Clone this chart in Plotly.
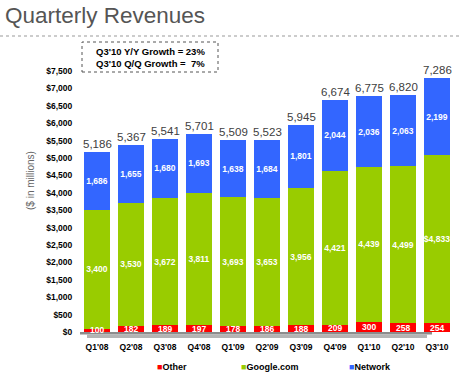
import plotly.graph_objects as go

quarters = ["Q1'08", "Q2'08", "Q3'08", "Q4'08", "Q1'09", "Q2'09", "Q3'09",
            "Q4'09", "Q1'10", "Q2'10", "Q3'10"]
other = [100, 182, 189, 197, 178, 186, 188, 209, 300, 258, 254]
google = [3400, 3530, 3672, 3811, 3693, 3653, 3956, 4421, 4439, 4499, 4833]
network = [1686, 1655, 1680, 1693, 1638, 1684, 1801, 2044, 2036, 2063, 2199]
totals = [5186, 5367, 5541, 5701, 5509, 5523, 5945, 6674, 6775, 6820, 7286]

google_text = [f"{v:,}" for v in google]
google_text[-1] = "$" + google_text[-1]
network_text = [f"{v:,}" for v in network]

RED = "#FF0000"
GREEN = "#99CC00"
BLUE = "#3366FF"
FONT = "Liberation Sans, Arial, sans-serif"

W, H = 460, 376
L, R, T, B = 80, 6, 71, 44
PW, PH = W - L - R, H - T - B


def px(x):
    return (x - L) / PW


def py(y):
    return (H - B - y) / PH


fig = go.Figure()
fig.add_trace(go.Bar(x=quarters, y=other, name="Other", marker=dict(color=RED, line=dict(width=0)),
                     showlegend=False, hoverinfo="skip"))
fig.add_trace(go.Bar(x=quarters, y=google, name="Google.com", marker=dict(color=GREEN, line=dict(width=0)),
                     text=google_text, textposition="inside", insidetextanchor="middle",
                     constraintext="none", texttemplate="%{text}", textangle=0,
                     textfont=dict(color="white", size=8.5, family=FONT, weight="bold"),
                     showlegend=False, hoverinfo="skip"))
fig.add_trace(go.Bar(x=quarters, y=network, name="Network", marker=dict(color=BLUE, line=dict(width=0)),
                     text=network_text, textposition="inside", insidetextanchor="middle",
                     constraintext="none", texttemplate="%{text}", textangle=0,
                     textfont=dict(color="white", size=8.5, family=FONT, weight="bold"),
                     showlegend=False, hoverinfo="skip"))

annotations = []
for q, o in zip(quarters, other):
    annotations.append(dict(x=q, y=o / 2, text=f"<b>{o:,}</b>", showarrow=False,
                            font=dict(color="white", size=8.5, family=FONT),
                            xanchor="center", yanchor="middle"))
for q, t in zip(quarters, totals):
    annotations.append(dict(x=q, y=t, text=f"{t:,}", showarrow=False,
                            font=dict(color="#404040", size=11.5, family=FONT),
                            xanchor="center", yanchor="bottom", yshift=0))

# growth box text
annotations.append(dict(xref="paper", yref="paper", x=px(150), y=py(57),
                        text="<b>Q3'10 Y/Y Growth = 23%<br>Q3'10 Q/Q Growth =  7%</b>",
                        showarrow=False, align="left", xanchor="center", yanchor="middle",
                        font=dict(size=9.5, color="black", family=FONT)))

# y axis title
annotations.append(dict(xref="paper", yref="paper", x=px(30), y=py(181),
                        text="($ in millions)", textangle=-90, showarrow=False,
                        font=dict(size=10, color="#666666", family=FONT),
                        xanchor="center", yanchor="middle"))

# legend
for name, color, x0 in [("Other", RED, 155), ("Google.com", GREEN, 239), ("Network", BLUE, 347)]:
    annotations.append(dict(xref="paper", yref="paper", x=px(x0), y=py(367),
                            text=f'<span style="color:{color}">■</span><b>{name}</b>',
                            showarrow=False, xanchor="left", yanchor="middle",
                            font=dict(size=9, color="black", family=FONT)))

shapes = [
    # dotted separator under title
    dict(type="line", xref="paper", yref="paper", x0=px(0), x1=px(460), y0=py(36), y1=py(36),
         line=dict(color="#999999", width=1, dash="dot")),
    # growth box
    dict(type="rect", xref="paper", yref="paper", x0=px(82), x1=px(218), y0=py(72), y1=py(42),
         line=dict(color="#555555", width=1, dash="dot"), fillcolor="rgba(0,0,0,0)"),
    # floor
    dict(type="rect", xref="paper", yref="paper", x0=px(80), x1=px(432), y0=py(334.5), y1=py(332),
         line=dict(width=0), fillcolor="#8c8c8c", layer="above"),
    dict(type="rect", xref="paper", yref="paper", x0=px(87), x1=px(427), y0=py(338), y1=py(334.5),
         line=dict(width=0), fillcolor="#b4b4b4", layer="above"),
]

fig.update_layout(
    width=W, height=H,
    margin=dict(l=L, r=R, t=T, b=B, pad=0),
    barmode="stack", bargap=0.26,
    plot_bgcolor="white", paper_bgcolor="white",
    showlegend=False,
    title=dict(text="Quarterly Revenues", x=5 / W, xanchor="left", xref="container",
               y=1 - 15 / H, yanchor="middle", yref="container",
               font=dict(size=22.5, color="#555555", family=FONT)),
    xaxis=dict(showgrid=False, zeroline=False, showline=False, ticks="outside", ticklen=7,
               tickcolor="rgba(0,0,0,0)",
               tickfont=dict(size=8.5, color="black", family=FONT, weight="bold"),
               range=[-0.5, 10.5]),
    yaxis=dict(range=[0, 7500], dtick=500, tickprefix="$", tickformat=",d",
               showgrid=False, zeroline=False, showline=False, ticks="outside", ticklen=5,
               tickcolor="rgba(0,0,0,0)",
               tickfont=dict(size=8.5, color="black", family=FONT, weight="bold")),
    annotations=annotations,
    shapes=shapes,
    font=dict(family=FONT),
)

fig.write_html("out.html", config={"displayModeBar": False},
               post_script="document.body.style.margin='0';document.body.style.overflow='hidden';")
